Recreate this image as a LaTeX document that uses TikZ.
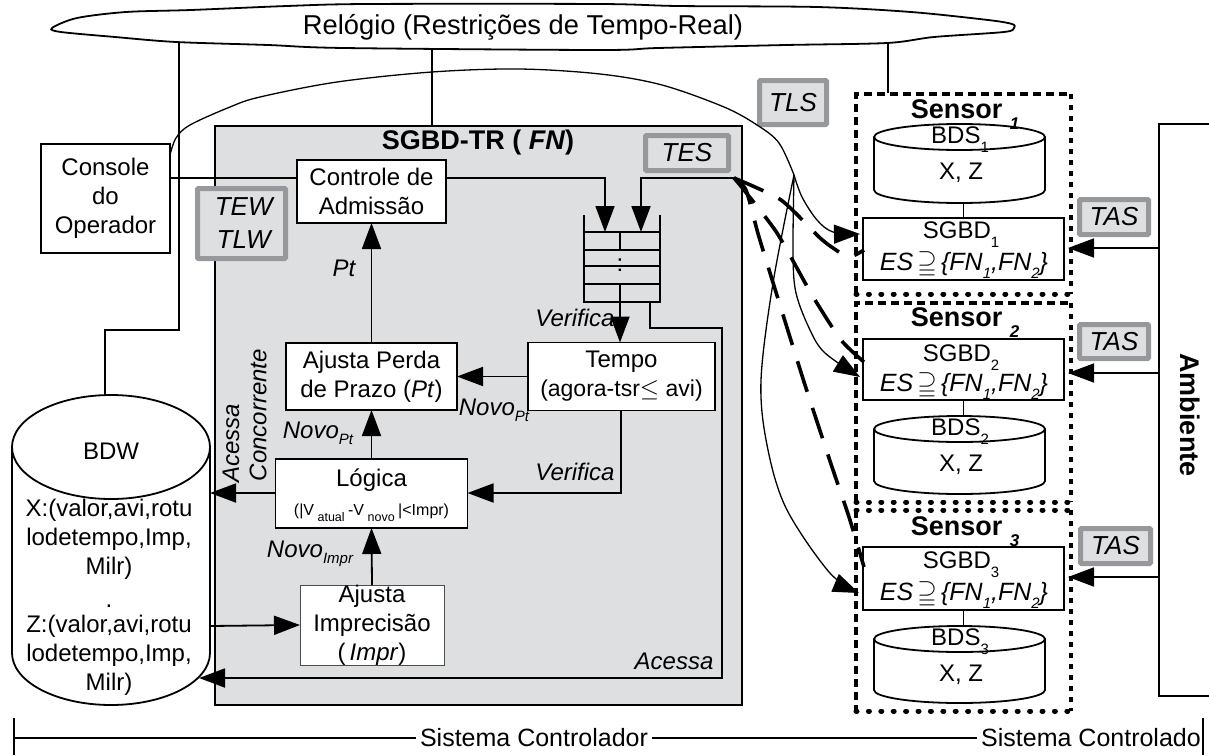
\documentclass[tikz,border=0pt]{standalone}
\usepackage{amsmath}
\usepackage{amssymb}
\usepackage{fontspec}
\setmainfont{Liberation Sans}
\usetikzlibrary{positioning, arrows.meta}
\definecolor{panelgray}{RGB}{221,223,225}
\definecolor{taggray}{RGB}{150,152,155}
\newcommand{\sbs}[2][-6pt]{\raisebox{#1}{\fontsize{15}{15}\selectfont #2}}
\tikzset{
  txt/.style={font=\fontsize{24}{29}\selectfont, align=center, inner sep=0pt},
  lbl/.style={font=\fontsize{24}{29}\selectfont\itshape, inner sep=0pt},
  titletxt/.style={font=\fontsize{27}{29}\selectfont\bfseries, inner sep=0pt},
  rectbox/.style={draw, fill=white, line width=1.8pt, outer sep=0pt, align=center, inner sep=0pt, font=\fontsize{24}{29}\selectfont},
  tagbox/.style={draw=taggray, fill=panelgray, line width=5pt, rounded corners=1pt, outer sep=0pt, inner sep=0pt, align=center, font=\fontsize{26}{33}\selectfont\itshape},
  conn/.style={line width=1.8pt},
  thinconn/.style={line width=1.3pt},
  thickdash/.style={line width=3.6pt, dash pattern=on 32pt off 17pt},
  sensedash/.style={line width=3.6pt, dash pattern=on 8pt off 5pt},
  senseside/.style={line width=3.6pt, dash pattern=on 5pt off 6pt},
  sensedot/.style={line width=5pt, line cap=round, dash pattern=on 1pt off 11.4pt},
  >={Triangle[length=26pt, width=19pt]}
}
\begin{document}
\begin{tikzpicture}[x=1pt, y=-1pt, node distance=60pt, on grid]
    \useasboundingbox (0,0) rectangle (1209,755);

    % panel
    \node[draw, fill=panelgray, line width=2pt, outer sep=0pt, minimum width=527pt, minimum height=579pt] (sgbd) at (478.5,415.5) {};
    \node[titletxt] (sgbdtitle) at (478,143) {SGBD-TR ( \textit{FN})};

    % clock cloud
    \draw[conn, fill=white] plot[smooth cycle, tension=0.5] coordinates {(52,28) (77,18) (126,12) (191,10) (287,6) (367,4) (600,4) (678,6) (817,7) (911,12) (988,20) (1012,24) (1014,28) (1004,32) (934,37) (887,43) (786,45) (658,48) (600,50) (344,48) (268,45) (176,42) (115,37) (61,32)};
    \node[font=\fontsize{27.3}{29}\selectfont, inner sep=0pt] (clock) at (523,27) {Relógio (Restrições de Tempo-Real)};
    \coordinate (clockW) at (179,42);
    \coordinate (clockM) at (432,49);
    \coordinate (clockE) at (888,43);

    % main boxes
    \node[rectbox, minimum width=129pt, minimum height=109pt] (console) at (105.5,198.5) {Console\\do\\Operador};
    \node[rectbox, minimum width=149pt, minimum height=63pt] (admit) at (371.5,191.5) {Controle de\\Admissão};
    \node[rectbox, minimum width=171pt, minimum height=67pt, below=185pt of admit] (prazo) {Ajusta Perda\\de Prazo (\textit{Pt})};
    \node[rectbox, minimum width=187pt, minimum height=68pt] (tempo) at (621.5,376.5) {Tempo\\{\fontsize{23}{29}\selectfont (agora-tsr$\leq$ avi)}};
    \node[rectbox, minimum width=192pt, minimum height=69pt, below=117pt of prazo] (logica) {\\[-8pt]Lógica\\[0pt]{\fontsize{16}{18}\selectfont (|V\raisebox{-6pt}{\fontsize{12.5}{12}\selectfont\ atual\ }-V\raisebox{-6pt}{\fontsize{12.5}{12}\selectfont\ novo\ }|<Impr)}};
    \node[rectbox, draw=black!70, line width=0.9pt, minimum width=144pt, minimum height=80pt] (impr) at (372,625) {};
    \node[txt] (imprtxt) at (372,625) {Ajusta\\Imprecisão\\(\,\textit{Impr})};

    % queue
    \coordinate (qNW) at (584,215);
    \coordinate (qNE) at (660,215);
    \coordinate (qSW) at (584,302);
    \coordinate (qSE) at (660,302);
    \coordinate (qA) at (605,232);
    \coordinate (qB) at (641,232);
    \coordinate (qC) at (620,302);
    \coordinate (qD) at (650,302);
    \draw[conn] (qNW) -- (qSW) -- (qSE) -- (qNE);
    \draw[conn] (584,232) -- (660,232) (584,250) -- (660,250) (584,266) -- (660,266) (584,284) -- (660,284);
    \draw[conn] (620,232) -- (620,250) (620,284) -- (620,302);
    \node[txt] (qdots) at (620,265) {:};

    % BDW cylinder
    \draw[conn, fill=white] (12,447) -- (12,653) arc[start angle=180, end angle=360, x radius=99pt, y radius=52pt] -- (210,447);
    \draw[conn, fill=white] (111,447) ellipse[x radius=99pt, y radius=52pt];
    \node[txt] (bdw) at (111,451) {BDW};
    \node[txt] (bdwtxt) at (109,597) {X:(valor,avi,rotu\\lodetempo,Imp,\\Milr)\\[4pt].\\[-4pt]Z:(valor,avi,rotu\\lodetempo,Imp,\\Milr)};
    \coordinate (bdwT) at (105,395);
    \coordinate (bdwA) at (210,493);
    \coordinate (bdwB) at (210,626);
    \coordinate (bdwC) at (199,678);

    % plain connectors
    \coordinate (clkA) at (179,330);
    \coordinate (clkB) at (105,330);
    \draw[conn] (clockW) -- (clkA) -- (clkB) -- (bdwT);
    \draw[conn] (clockM) -- (432,126);
    \draw[thinconn] (clockE) -- (888,93);
    \draw[conn] (console.east |- 0,178) -- (admit.west |- 0,178);

    \coordinate (tesA) at (734,178);
    \coordinate (accA) at (650,328);
    \coordinate (accB) at (722,328);
    \coordinate (accC) at (722,678);
    \coordinate (verB) at (621,493);

    \draw[conn, ->] (admit.east |- 0,178) -| (qA);
    \draw[conn, ->] (tesA) -| (qB);
    \path[->]
        (qC) edge[conn] (tempo.north -| qC)
        (prazo.north) edge[conn] (admit.south)
        (logica.north) edge[conn] (prazo.south)
        (impr.north) edge[conn] (logica.south)
        (tempo.west |- prazo) edge[conn] (prazo.east)
        (logica.west |- bdwA) edge[conn] (bdwA)
        (bdwB) edge[conn] (impr.west);
    \draw[conn, ->] (tempo.south -| verB) -- (verB) -- (logica.east |- verB);
    \draw[conn, ->] (qD) -- (accA) -- (accB) -- (accC) -- (bdwC);

    % tags
    \node[tagbox, minimum width=88pt, minimum height=70pt] (tew) at (241.5,223.5) {\,TEW\\\,TLW};
    \node[tagbox, minimum width=83pt, minimum height=35pt] (tes) at (687,153) {TES};
    \node[tagbox, minimum width=67pt, minimum height=44pt] (tls) at (793,102.5) {TLS};

    % labels
    \node[lbl] (lblpt) at (344,268) {Pt};
    \node[lbl] (lblver) at (575,318) {Verifica};
    \node[lbl] (lblver2) at (575,472) {Verifica};
    \node[lbl] (lblnovoA) at (494,410) {Novo\sbs{\itshape Pt}};
    \node[lbl] (lblnovoB) at (318,433) {Novo\sbs{\itshape Pt}};
    \node[lbl] (lblnovoC) at (310,554) {Novo\sbs{\itshape Impr}};
    \node[lbl, rotate=90] (lblace) at (231,443) {Acessa};
    \node[lbl, rotate=90] (lblcon) at (258,415) {Concorrente};
    \node[lbl] (lblace2) at (674,661) {Acessa};

    % Sensor 1
    \node[minimum width=215pt, minimum height=200pt, outer sep=0pt] (sensorA) at (963.5,194) {};
    \draw[sensedash] (sensorA.south west) -- (sensorA.north west) -- (sensorA.north east);
    \draw[senseside] (sensorA.north east) -- (sensorA.south east);
    \draw[sensedot] (sensorA.south west) -- (sensorA.south east);
    \draw[conn, fill=white] (874,137) -- (874,190) arc[start angle=180, end angle=360, x radius=85.5pt, y radius=13pt] -- (1045,137);
    \draw[conn, fill=white] (959.5,137) ellipse[x radius=85.5pt, y radius=13pt];
    \node[titletxt] (sensortxtA) at (965,115) {Sensor \raisebox{-11pt}{\fontsize{17}{17}\selectfont\itshape 1}};
    \node[txt] (bdsA) at (960,140) {BDS\sbs[-9pt]{1}};
    \node[txt] (xzA) at (961,173) {X, Z};
    \node[rectbox, minimum width=201pt, minimum height=62pt] (sgbdA) at (963.5,249) {};
    \node[txt] (sgbdtxtA) at (961,235) {SGBD\sbs[-9pt]{1}};
    \node[txt, font=\fontsize{25}{29}\selectfont] (esA) at (964,265) {\textit{ES}\,$\supseteqq$\,\textit{\{FN\sbs[-8pt]{1},FN\sbs[-8pt]{2}\}}};
    \draw[thinconn] (sgbdA.north |- 0,203) -- (sgbdA.north);

    % Sensor 2
    \node[minimum width=215pt, minimum height=199pt, outer sep=0pt] (sensorB) at (963.5,402.5) {};
    \draw[sensedash] (sensorB.south west) -- (sensorB.north west) -- (sensorB.north east);
    \draw[senseside] (sensorB.north east) -- (sensorB.south east);
    \draw[sensedot] (sensorB.south west) -- (sensorB.south east);
    \node[titletxt] (sensortxtB) at (965,323) {Sensor \raisebox{-11pt}{\fontsize{17}{17}\selectfont\itshape 2}};
    \node[rectbox, minimum width=201pt, minimum height=61pt] (sgbdB) at (963.5,369.5) {};
    \node[txt] (sgbdtxtB) at (961,358) {SGBD\sbs[-9pt]{2}};
    \node[txt, font=\fontsize{25}{29}\selectfont] (esB) at (964,386) {\textit{ES}\,$\supseteqq$\,\textit{\{FN\sbs[-8pt]{1},FN\sbs[-8pt]{2}\}}};
    \draw[conn, fill=white] (874,429) -- (874,481) arc[start angle=180, end angle=360, x radius=85.5pt, y radius=13pt] -- (1045,429);
    \draw[conn, fill=white] (959.5,429) ellipse[x radius=85.5pt, y radius=13pt];
    \node[txt] (bdsB) at (960,432) {BDS\sbs[-9pt]{2}};
    \node[txt] (xzB) at (961,465) {X, Z};
    \draw[thinconn] (sgbdB.south) -- (sgbdB.south |- 0,417);

    % Sensor 3
    \node[minimum width=215pt, minimum height=201pt, outer sep=0pt] (sensorC) at (963.5,610.5) {};
    \draw[sensedash] (sensorC.north west) -- (sensorC.south west);
    \draw[senseside] (sensorC.north east) -- (sensorC.south east);
    \draw[sensedot] (sensorC.north west) -- (sensorC.north east) (sensorC.south west) -- (sensorC.south east);
    \node[titletxt] (sensortxtC) at (965,532) {Sensor \raisebox{-11pt}{\fontsize{17}{17}\selectfont\itshape 3}};
    \node[rectbox, minimum width=201pt, minimum height=63pt] (sgbdC) at (963.5,578.5) {};
    \node[txt] (sgbdtxtC) at (961,565) {SGBD\sbs[-9pt]{3}};
    \node[txt, font=\fontsize{25}{29}\selectfont] (esC) at (964,595) {\textit{ES}\,$\supseteqq$\,\textit{\{FN\sbs[-8pt]{1},FN\sbs[-8pt]{2}\}}};
    \draw[conn, fill=white] (874,639) -- (874,690) arc[start angle=180, end angle=360, x radius=85.5pt, y radius=13pt] -- (1045,639);
    \draw[conn, fill=white] (959.5,639) ellipse[x radius=85.5pt, y radius=13pt];
    \node[txt] (bdsC) at (960,642) {BDS\sbs[-9pt]{3}};
    \node[txt] (xzC) at (961,675) {X, Z};
    \draw[thinconn] (sgbdC.south) -- (sgbdC.south |- 0,626);

    % environment
    \coordinate (envT) at (1209,124);
    \coordinate (envTL) at (1159,124);
    \coordinate (envBL) at (1159,696);
    \coordinate (envB) at (1209,696);
    \draw[conn] (envT) -- (envTL) -- (envBL) -- (envB);
    \node[titletxt, rotate=-90] (env) at (1190,415) {Ambiente};
    \coordinate (tipA) at (1068,248);
    \coordinate (tipB) at (1068,373);
    \coordinate (tipC) at (1068,577);
    \path[->]
        (envTL |- tipA) edge[conn] (tipA)
        (envTL |- tipB) edge[conn] (tipB)
        (envTL |- tipC) edge[conn] (tipC);
    \node[tagbox, minimum width=69pt, minimum height=35pt] (tasA) at (1114,217) {TAS};
    \node[tagbox, minimum width=69pt, minimum height=34pt] (tasB) at (1114,341.5) {TAS};
    \node[tagbox, minimum width=70pt, minimum height=35pt] (tasC) at (1115.5,546) {TAS};

    % write propagation
    \coordinate (split) at (794,175);
    \coordinate (inA) at (860,234);
    \coordinate (inB) at (860,377);
    \coordinate (inC) at (859,593);
    \draw[thinconn] plot[smooth, tension=0.55] coordinates {(170,155) (176,138) (190,125) (230,107) (260,97) (337,82) (432,72) (519,69) (600,74) (662,85) (724,107) (757,125) (779,143) (split)};
    \draw[thinconn, ->] plot[smooth, tension=0.55] coordinates {(split) (802,197) (817,220) (833,232) (inA)};
    \draw[thinconn, ->] plot[smooth, tension=0.55] coordinates {(split) (793,253) (796,293) (810,330) (825,353) (inB)};
    \draw[thinconn, ->] plot[smooth, tension=0.55] coordinates {(split) (773,283) (761,380) (767,445) (786,508) (829,572) (inC)};

    \draw[thickdash] plot[smooth, tension=0.4] coordinates {(tesA) (781,200) (819,237) (833,248) (849,257) (864,250)};
    \draw[thickdash] plot[smooth, tension=0.4] coordinates {(tesA) (744,190) (777,233) (812,295) (841,340) (864,362)};
    \draw[thickdash] plot[smooth, tension=0.4] coordinates {(tesA) (746,190) (759,237) (784,318) (805,385) (832,467) (849,517) (864,567)};

    % bottom scale
    \coordinate (scaleL) at (14,738);
    \node[font=\fontsize{25}{29}\selectfont, inner sep=0pt] (ctrlsys) at (534,738) {Sistema Controlador};
    \node[font=\fontsize{25}{29}\selectfont, inner sep=0pt] (plantsys) at (1091,738) {Sistema Controlado};
    \draw[conn] (scaleL) -- ([xshift=-4pt]ctrlsys.west);
    \draw[conn] ([xshift=4pt]ctrlsys.east) -- ([xshift=-4pt]plantsys.west);
    \draw[conn] (14,718) -- (14,755) (1203,718) -- (1203,755);
\end{tikzpicture}
\end{document}
